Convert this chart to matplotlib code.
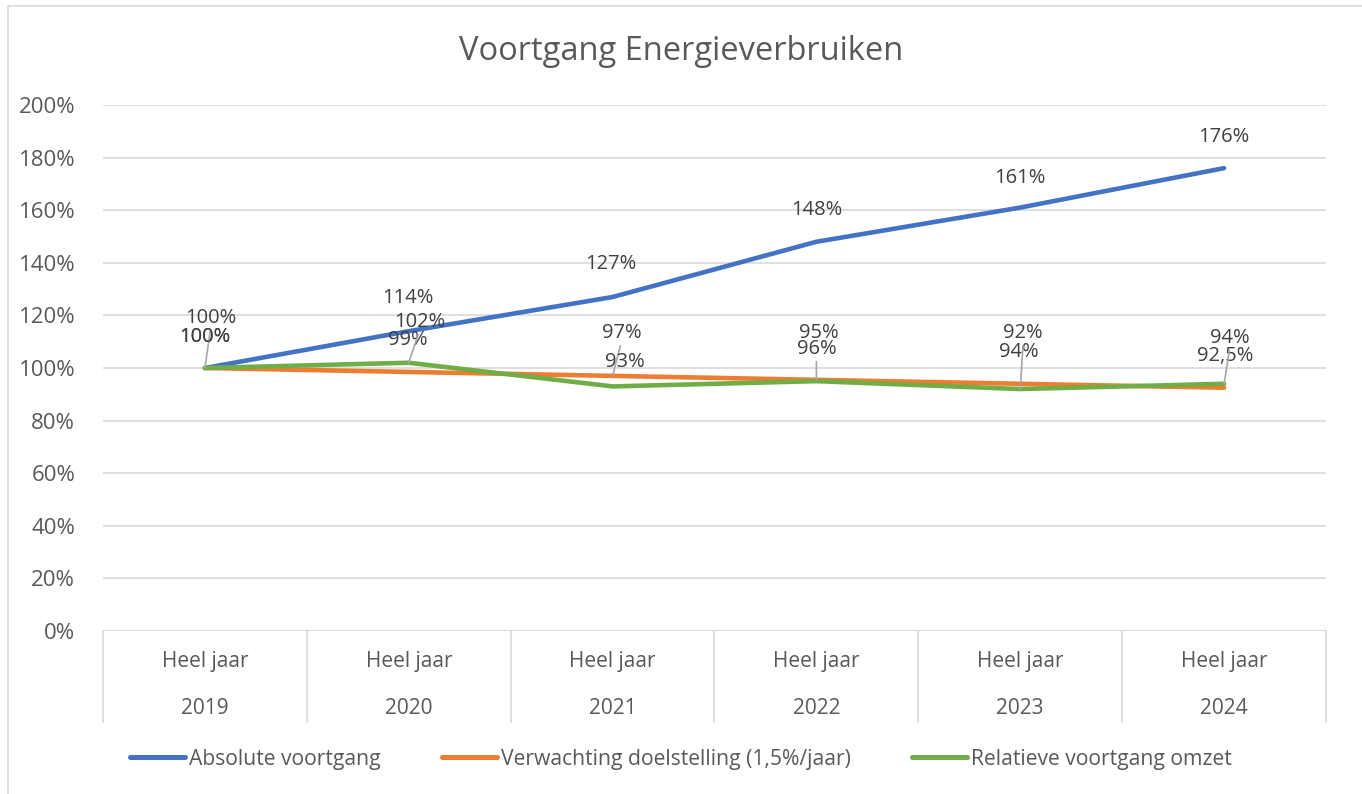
import matplotlib
matplotlib.use('Agg')
import matplotlib.pyplot as plt
from matplotlib.patches import Rectangle

plt.rcParams['font.family'] = ['Open Sans', 'DejaVu Sans']

# data
years = ['2019', '2020', '2021', '2022', '2023', '2024']
period = 'Heel jaar'
absolute = [100, 114, 127, 148, 161, 176]
expected = [100, 98.5, 97, 95.5, 94, 92.5]
relative = [100, 102, 93, 95, 92, 94]
absolute_labels = ['100%', '114%', '127%', '148%', '161%', '176%']
expected_labels = ['100%', '99%', '97%', '96%', '94%', '92,5%']
relative_labels = ['100%', '102%', '93%', '95%', '92%', '94%']
series_names = ['Absolute voortgang', 'Verwachting doelstelling (1,5%/jaar)',
                'Relatieve voortgang omzet']
colors = ['#4472C4', '#ED7D31', '#70AD47']

# label offsets in pixels (dx, dy) and whether a leader line is drawn
abs_off = [(0, 31), (-1, 33), (-2, 33), (0, 32), (0, 30), (0, 31)]
abs_lead = [False] * 6
exp_off = [(6, 50), (-1, 32), (9, 43), (0, 31), (-1, 32), (1, 32)]
exp_lead = [True, False, True, True, False, False]
rel_off = [(0, 31), (11, 41), (12, 24), (2, 48), (3, 56), (6, 46)]
rel_lead = [False, True, False, False, True, True]

W, H = 1362, 794
fig = plt.figure(figsize=(W / 100, H / 100), dpi=100)
fig.patch.set_facecolor('white')

# outer chart border
fig.add_artist(Rectangle((8 / W, -0.01), 1.02, (788 / H) + 0.01, transform=fig.transFigure,
                         fill=False, edgecolor='#d9d9d9', linewidth=1.2))

L, R, T, B = 103, 1326, 105, 631
ax = fig.add_axes([L / W, 1 - B / H, (R - L) / W, (B - T) / H])
x = list(range(len(years)))

for vals, c in zip([absolute, expected, relative], colors):
    ax.plot(x, vals, color=c, lw=3.3, solid_capstyle='round', solid_joinstyle='round', zorder=3)

ax.set_xlim(-0.5, len(years) - 0.5)
ax.set_ylim(0, 200)
ax.set_yticks(range(0, 201, 20))
ax.set_yticklabels([f'{v}%' for v in range(0, 201, 20)])
ax.tick_params(axis='y', length=0, labelsize=16, labelcolor='#595959', pad=20)
ax.set_xticks([])
for s in ax.spines.values():
    s.set_visible(False)
ax.grid(axis='y', color='#d9d9d9', lw=1.2)
ax.set_axisbelow(True)
ax.axhline(0, color='#d9d9d9', lw=1.2, zorder=1)

# category separators and two-level labels
sep_bottom = -(722 - B) / (B - T)
for i in range(len(years) + 1):
    ax.plot([i - 0.5, i - 0.5], [0, sep_bottom], color='#d9d9d9', lw=1.2,
            transform=ax.get_xaxis_transform(), clip_on=False)
for i, yr in enumerate(years):
    ax.text(i, -(662 - B) / (B - T), period, transform=ax.get_xaxis_transform(),
            ha='center', va='center', fontsize=15, color='#595959')
    ax.text(i, -(709 - B) / (B - T), yr, transform=ax.get_xaxis_transform(),
            ha='center', va='center', fontsize=15, color='#595959')

# data labels
for vals, labels, offs, leads in [(absolute, absolute_labels, abs_off, abs_lead),
                                  (expected, expected_labels, exp_off, exp_lead),
                                  (relative, relative_labels, rel_off, rel_lead)]:
    for i, (v, lab, off, lead) in enumerate(zip(vals, labels, offs, leads)):
        kw = {}
        if lead:
            kw['arrowprops'] = dict(arrowstyle='-', color='#a6a6a6', lw=1.2,
                                    shrinkA=0, shrinkB=0, relpos=(0.5, 0.1))
        ax.annotate(lab, (i, v), xytext=off, textcoords='offset pixels',
                    ha='center', va='center', fontsize=14.5, color='#404040',
                    zorder=5, **kw)

fig.text(681 / W, 1 - 51 / H, 'Voortgang Energieverbruiken', ha='center', va='center',
         fontsize=23.5, color='#595959')

handles = [plt.Line2D([], [], color=c, lw=3.6, solid_capstyle='round') for c in colors]
fig.legend(handles, series_names, loc='center', bbox_to_anchor=(0.5, 1 - 759 / H),
           ncol=3, frameon=False, fontsize=15.2, labelcolor='#595959',
           handlelength=2.6, handletextpad=0.2, columnspacing=2.9)

fig.savefig('out.png', dpi=100)
